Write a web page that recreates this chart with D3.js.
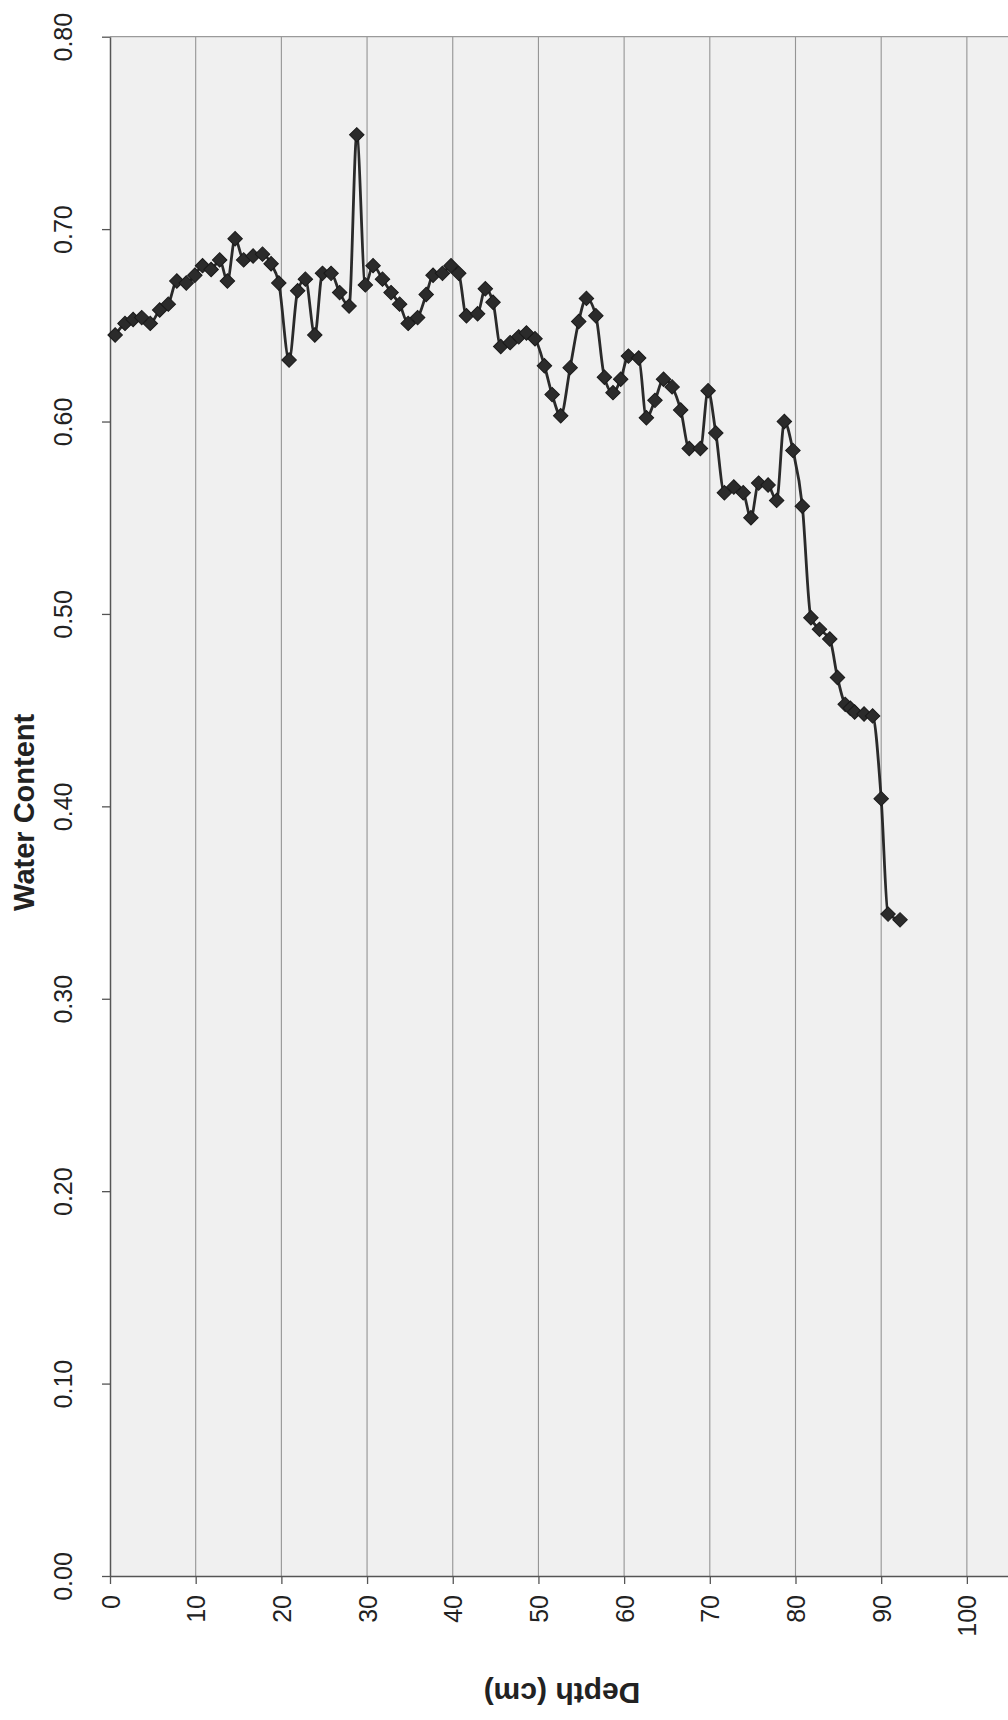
<!DOCTYPE html>
<html>
<head>
<meta charset="utf-8">
<script src="https://cdn.jsdelivr.net/npm/d3@7"></script>
<style>
  html, body { margin: 0; padding: 0; background: #fff; }
  svg { display: block; font-family: "Liberation Sans", Arial, sans-serif; }
</style>
</head>
<body>
<svg id="chart" width="1008" height="1720"></svg>
<script>
// Depth (cm) of each measurement
const depth = [0.6,1.75,2.7,3.7,4.7,5.8,6.8,7.8,8.9,9.9,
  10.8,11.8,12.8,13.7,14.6,15.6,16.7,17.8,18.8,19.7,
  20.9,21.9,22.8,23.9,24.8,25.8,26.8,27.9,28.8,29.8,
  30.7,31.8,32.8,33.8,34.8,35.9,36.9,37.7,38.8,39.8,
  40.7,41.6,42.9,43.8,44.7,45.6,46.7,47.7,48.6,49.6,
  50.7,51.6,52.6,53.7,54.7,55.6,56.7,57.7,58.7,59.6,
  60.5,61.7,62.6,63.6,64.6,65.6,66.6,67.6,68.9,69.8,
  70.7,71.7,72.8,73.9,74.8,75.7,76.8,77.8,78.7,79.7,
  80.8,81.8,82.8,84.0,84.9,85.8,86.4,86.9,88.0,89.0,
  90.0,90.8,92.2];
// Water content at each depth
const waterContent = [0.645,0.651,0.653,0.654,0.651,0.658,0.661,0.673,0.672,0.676,
  0.681,0.679,0.684,0.673,0.695,0.684,0.686,0.687,0.682,0.672,
  0.632,0.668,0.674,0.645,0.677,0.677,0.667,0.660,0.749,0.671,
  0.681,0.674,0.667,0.661,0.651,0.654,0.666,0.676,0.677,0.681,
  0.677,0.655,0.656,0.669,0.662,0.639,0.641,0.644,0.646,0.643,
  0.629,0.614,0.603,0.628,0.652,0.664,0.655,0.623,0.615,0.622,
  0.634,0.633,0.602,0.611,0.622,0.618,0.606,0.586,0.586,0.616,
  0.594,0.563,0.566,0.563,0.550,0.568,0.567,0.559,0.600,0.585,
  0.556,0.498,0.492,0.487,0.467,0.453,0.451,0.449,0.448,0.447,
  0.404,0.344,0.341];
const depthTicks = [0,10,20,30,40,50,60,70,80,90,100];
const waterTicks = [0,0.1,0.2,0.3,0.4,0.5,0.6,0.7,0.8];
const depthTitle = "Depth (cm)";
const waterTitle = "Water Content";

const svg = d3.select("#chart");
const plotL = 110, plotR = 1008, plotT = 36.7, plotB = 1576;

const x = d3.scaleLinear().domain([0, 104.8]).range([plotL, plotR]);
const y = d3.scaleLinear().domain([0, 0.8]).range([plotB, plotT]);

// plot background
svg.append("rect")
  .attr("x", plotL).attr("y", plotT)
  .attr("width", plotR - plotL).attr("height", plotB - plotT)
  .attr("fill", "#f0f0f0");

// vertical gridlines
svg.append("g").selectAll("line")
  .data(depthTicks.filter(d => d > 0))
  .join("line")
  .attr("x1", d => x(d)).attr("x2", d => x(d))
  .attr("y1", plotT).attr("y2", plotB)
  .attr("stroke", "#959595").attr("stroke-width", 1.1);

// top border
svg.append("line")
  .attr("x1", plotL).attr("x2", plotR).attr("y1", plotT).attr("y2", plotT)
  .attr("stroke", "#9a9a9a").attr("stroke-width", 1.2);

// y axis (water content)
const yAxis = svg.append("g")
  .attr("transform", `translate(${plotL},0)`)
  .call(d3.axisLeft(y).tickValues(waterTicks).tickFormat(d3.format(".2f")).tickSize(8).tickSizeOuter(0));
yAxis.select(".domain").attr("stroke", "#555").attr("stroke-width", 1.5);
yAxis.selectAll(".tick line").attr("stroke", "#555").attr("stroke-width", 1.3);
yAxis.selectAll(".tick text")
  .attr("x", 0).attr("dy", 0)
  .attr("transform", "translate(-38,0) rotate(-90)")
  .attr("text-anchor", "middle")
  .attr("font-size", 25)
  .attr("font-family", "Liberation Sans, Arial, sans-serif")
  .attr("fill", "#222");

// x axis (depth)
const xAxis = svg.append("g")
  .attr("transform", `translate(0,${plotB})`)
  .call(d3.axisBottom(x).tickValues(depthTicks).tickFormat(d3.format("d")).tickSize(8).tickSizeOuter(0));
xAxis.select(".domain").attr("stroke", "#555").attr("stroke-width", 1.5);
xAxis.selectAll(".tick line").attr("stroke", "#555").attr("stroke-width", 1.3);
xAxis.selectAll(".tick text")
  .attr("y", 0).attr("dy", 0)
  .attr("transform", "translate(9,19) rotate(-90)")
  .attr("text-anchor", "end")
  .attr("font-size", 25)
  .attr("font-family", "Liberation Sans, Arial, sans-serif")
  .attr("fill", "#222");

// axis titles
svg.append("text")
  .attr("transform", `translate(34,${(plotT + plotB) / 2 + 6}) rotate(-90)`)
  .attr("text-anchor", "middle")
  .attr("font-size", 29).attr("font-weight", "bold")
  .attr("fill", "#222")
  .text(waterTitle);

svg.append("text")
  .attr("transform", `translate(562,1683) rotate(180)`)
  .attr("text-anchor", "middle")
  .attr("font-size", 30).attr("font-weight", "bold")
  .attr("fill", "#222")
  .text(depthTitle);

// data
const data = depth.map((d, i) => ({ d, w: waterContent[i] }));

svg.append("path")
  .datum(data)
  .attr("fill", "none")
  .attr("stroke", "#2a2a2a")
  .attr("stroke-width", 2.8)
  .attr("d", d3.line().x(p => x(p.d)).y(p => y(p.w)).curve(d3.curveMonotoneX));

const marker = d3.symbol().type(d3.symbolSquare).size(105);
svg.append("g").selectAll("path")
  .data(data)
  .join("path")
  .attr("d", marker)
  .attr("transform", p => `translate(${x(p.d)},${y(p.w)}) rotate(45)`)
  .attr("fill", "#2b2b2b")
  .attr("stroke", "#1a1a1a")
  .attr("stroke-width", 1);
</script>
</body>
</html>
